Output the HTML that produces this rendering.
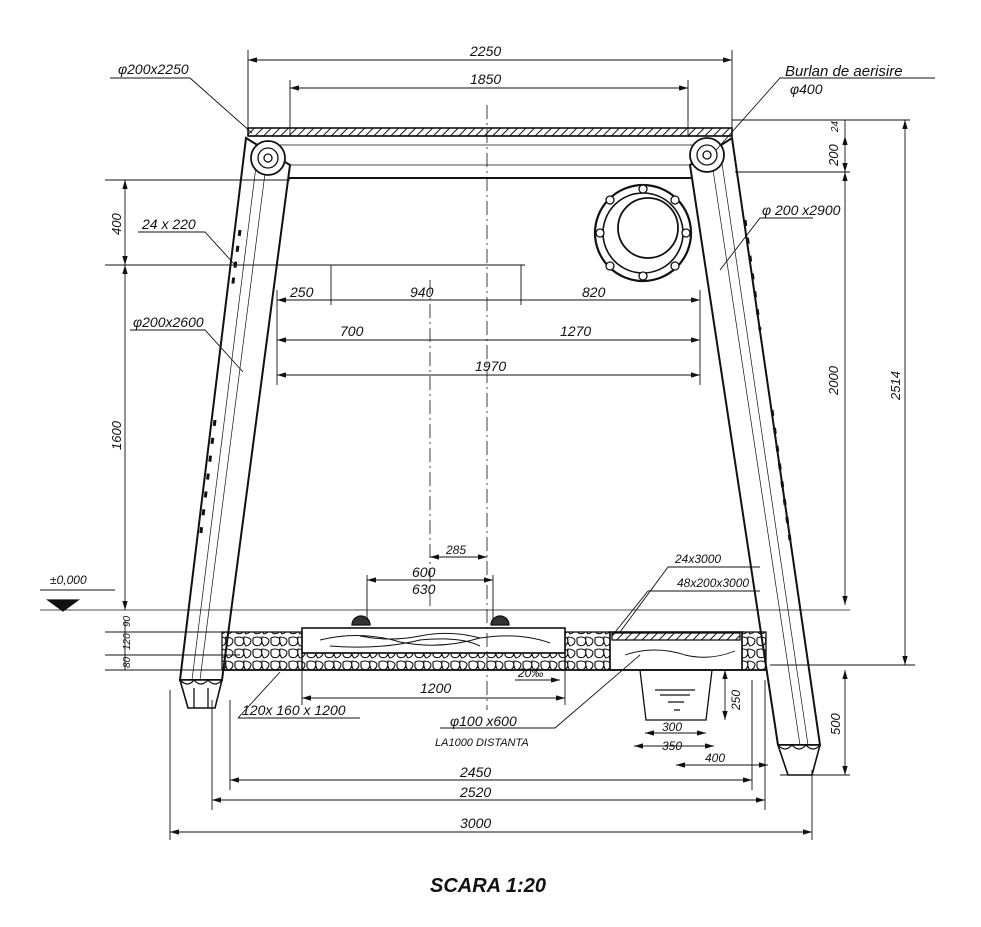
<!DOCTYPE html>
<html><head><meta charset="utf-8"><style>
html,body{margin:0;padding:0;background:#fff;}
svg{display:block;}
text{font-family:"Liberation Sans",sans-serif;font-style:italic;fill:#111;}
</style></head><body>
<svg width="981" height="927" viewBox="0 0 981 927" xmlns="http://www.w3.org/2000/svg">
<defs>
<marker id="a" markerWidth="10" markerHeight="6" refX="10" refY="3" orient="auto-start-reverse"><path d="M0,0 L10,3 L0,6 z" fill="#111"/></marker>
<pattern id="h" width="6" height="6" patternUnits="userSpaceOnUse" patternTransform="rotate(45)"><line x1="0" y1="0" x2="0" y2="6" stroke="#111" stroke-width="2"/></pattern>
<pattern id="st" width="18" height="12" patternUnits="userSpaceOnUse"><path d="M1,2 q4,-2 8,0 q2,4 -1,7 q-5,2 -7,-2z M10,1 q5,0 7,3 q0,5 -5,6 q-3,-3 -2,-9z" fill="none" stroke="#111" stroke-width="1.1"/></pattern>
</defs>
<g stroke="#111" fill="none" stroke-width="1.3">
<!-- top beam -->
<rect x="248" y="128" width="484" height="8" fill="url(#h)" stroke-width="1.6"/>
<line x1="248" y1="136" x2="732" y2="136"/>
<line x1="262" y1="145" x2="720" y2="145" stroke-width="0.8"/>
<line x1="270" y1="165" x2="700" y2="165" stroke-width="0.8"/>
<line x1="285" y1="178" x2="692" y2="178" stroke-width="2"/>
<!-- left post -->
<polygon points="246,138 290,165 222,680 180,680" fill="#fff" stroke-width="2"/>
<line x1="268" y1="150" x2="200" y2="680" stroke-width="0.7"/>
<line x1="258" y1="150" x2="192" y2="680" stroke-width="0.7"/>
<line x1="240" y1="230" x2="232" y2="290" stroke-width="3" stroke-dasharray="6,10"/>
<line x1="215" y1="420" x2="200" y2="540" stroke-width="3" stroke-dasharray="6,12"/>
<polygon points="180,680 222,680 215,708 188,708" fill="#fff" stroke-width="1.6"/>
<path d="M180,680 q8,8 14,0 q7,8 14,0 q7,8 14,0" />
<line x1="194" y1="688" x2="194" y2="708"/><line x1="208" y1="688" x2="208" y2="708"/>
<!-- right post -->
<polygon points="690,165 732,138 820,745 778,745" fill="#fff" stroke-width="2"/>
<line x1="710" y1="150" x2="800" y2="745" stroke-width="0.7"/>
<line x1="720" y1="150" x2="808" y2="745" stroke-width="0.7"/>
<line x1="745" y1="220" x2="760" y2="330" stroke-width="3" stroke-dasharray="6,12"/>
<line x1="772" y1="410" x2="790" y2="540" stroke-width="3" stroke-dasharray="6,12"/>
<polygon points="778,745 820,745 812,775 788,775" fill="#fff" stroke-width="1.6"/>
<path d="M778,745 q7,8 14,0 q7,8 14,0 q7,8 14,0"/>
<!-- circles -->
<circle cx="268" cy="158" r="17" fill="#fff" stroke-width="1.8"/><circle cx="268" cy="158" r="10"/><circle cx="268" cy="158" r="4"/>
<circle cx="707" cy="155" r="17" fill="#fff" stroke-width="1.8"/><circle cx="707" cy="155" r="10"/><circle cx="707" cy="155" r="4"/>
<circle cx="643" cy="233" r="48" stroke-width="2.2"/><circle cx="643" cy="233" r="40" stroke-width="1.6"/><circle cx="648" cy="228" r="30" stroke-width="1.8"/>
<g fill="#fff"><circle cx="643" cy="189" r="4"/><circle cx="675" cy="200" r="4"/><circle cx="686" cy="233" r="4"/><circle cx="675" cy="266" r="4"/><circle cx="643" cy="276" r="4"/><circle cx="610" cy="266" r="4"/><circle cx="600" cy="233" r="4"/><circle cx="610" cy="200" r="4"/></g>
<!-- ground -->
<rect x="222" y="632" width="80" height="38" fill="url(#st)"/>
<rect x="302" y="653" width="263" height="17" fill="url(#st)"/>
<rect x="565" y="632" width="45" height="38" fill="url(#st)"/>
<rect x="742" y="632" width="24" height="38" fill="url(#st)"/>
<rect x="302" y="628" width="263" height="25" stroke-width="1.6"/>
<path d="M320,640 q40,-10 80,2 q40,8 80,-4 q40,-6 70,5 M330,646 q50,4 90,-6 q40,-4 60,6 M360,636 q30,6 60,0 q30,-6 60,2" stroke-width="1"/>
<rect x="610" y="632" width="132" height="38" stroke-width="1.6"/>
<rect x="612" y="633" width="128" height="7" fill="url(#h)"/>
<path d="M625,655 q30,-10 60,0 q25,6 50,-4" stroke-width="0.9"/>
<line x1="222" y1="670" x2="766" y2="670" stroke-width="1.8"/>
<polygon points="640,670 712,670 706,720 646,720"/>
<path d="M655,690 h40 M660,695 h30 M668,702 h16 M674,710 h6"/>
<path d="M352,625 a9,9 0 0 1 18,0 z M491,625 a9,9 0 0 1 18,0 z" fill="#333"/>
<!-- center lines -->
<line x1="487" y1="105" x2="487" y2="710" stroke-dasharray="14,4,2,4" stroke-width="0.8"/>
<line x1="430" y1="280" x2="430" y2="610" stroke-dasharray="14,4,2,4" stroke-width="0.8"/>
<line x1="40" y1="610" x2="850" y2="610" stroke-width="0.8"/>
<!-- dimension lines -->
<g stroke-width="0.9">
<line x1="248" y1="60" x2="732" y2="60" marker-start="url(#a)" marker-end="url(#a)"/>
<line x1="248" y1="50" x2="248" y2="130"/><line x1="732" y1="50" x2="732" y2="130"/>
<line x1="290" y1="88" x2="688" y2="88" marker-start="url(#a)" marker-end="url(#a)"/>
<line x1="290" y1="80" x2="290" y2="135"/><line x1="688" y1="80" x2="688" y2="135"/>
<line x1="105" y1="180" x2="290" y2="180"/><line x1="105" y1="265" x2="525" y2="265"/>
<line x1="125" y1="180" x2="125" y2="265" marker-start="url(#a)" marker-end="url(#a)"/>
<line x1="125" y1="265" x2="125" y2="610" marker-start="url(#a)" marker-end="url(#a)"/>
<line x1="125" y1="620" x2="125" y2="670"/>
<line x1="105" y1="632" x2="300" y2="632"/><line x1="105" y1="655" x2="240" y2="655"/><line x1="105" y1="670" x2="222" y2="670"/>
<line x1="732" y1="120" x2="910" y2="120"/><line x1="735" y1="172" x2="850" y2="172"/>
<line x1="845" y1="120" x2="845" y2="136"/>
<line x1="845" y1="136" x2="845" y2="172" marker-start="url(#a)" marker-end="url(#a)"/>
<line x1="845" y1="172" x2="845" y2="605" marker-start="url(#a)" marker-end="url(#a)"/>
<line x1="905" y1="120" x2="905" y2="665" marker-start="url(#a)" marker-end="url(#a)"/>
<line x1="770" y1="665" x2="915" y2="665"/><line x1="780" y1="775" x2="850" y2="775"/>
<line x1="845" y1="670" x2="845" y2="775" marker-start="url(#a)" marker-end="url(#a)"/>
<line x1="277" y1="300" x2="700" y2="300" marker-start="url(#a)" marker-end="url(#a)"/>
<line x1="331" y1="265" x2="331" y2="305"/><line x1="521" y1="265" x2="521" y2="305"/>
<line x1="277" y1="340" x2="700" y2="340" marker-start="url(#a)" marker-end="url(#a)"/>
<line x1="277" y1="375" x2="700" y2="375" marker-start="url(#a)" marker-end="url(#a)"/>
<line x1="277" y1="290" x2="277" y2="385"/><line x1="700" y1="290" x2="700" y2="385"/>
<line x1="430" y1="557" x2="487" y2="557" marker-start="url(#a)" marker-end="url(#a)"/>
<line x1="367" y1="580" x2="493" y2="580" marker-start="url(#a)" marker-end="url(#a)"/>
<line x1="367" y1="575" x2="367" y2="620"/><line x1="493" y1="575" x2="493" y2="620"/>
<line x1="302" y1="698" x2="565" y2="698" marker-start="url(#a)" marker-end="url(#a)"/>
<line x1="302" y1="660" x2="302" y2="705"/><line x1="565" y1="660" x2="565" y2="705"/>
<line x1="645" y1="733" x2="706" y2="733" marker-start="url(#a)" marker-end="url(#a)"/>
<line x1="634" y1="746" x2="714" y2="746" marker-start="url(#a)" marker-end="url(#a)"/>
<line x1="725" y1="670" x2="725" y2="720" marker-start="url(#a)" marker-end="url(#a)"/>
<line x1="676" y1="765" x2="768" y2="765" marker-start="url(#a)" marker-end="url(#a)"/>
<line x1="230" y1="780" x2="752" y2="780" marker-start="url(#a)" marker-end="url(#a)"/>
<line x1="212" y1="800" x2="765" y2="800" marker-start="url(#a)" marker-end="url(#a)"/>
<line x1="170" y1="832" x2="812" y2="832" marker-start="url(#a)" marker-end="url(#a)"/>
<line x1="170" y1="690" x2="170" y2="840"/><line x1="812" y1="770" x2="812" y2="840"/>
<line x1="212" y1="700" x2="212" y2="810"/><line x1="230" y1="700" x2="230" y2="790"/>
<line x1="752" y1="680" x2="752" y2="790"/><line x1="765" y1="680" x2="765" y2="810"/>
<!-- leaders -->
<polyline points="110,78 190,78 252,133"/>
<polyline points="935,78 780,78 716,150"/>
<polyline points="138,232 205,232 235,265"/>
<polyline points="130,330 205,330 243,372"/>
<polyline points="813,218 760,218 720,270"/>
<polyline points="238,718 360,718"/><line x1="238" y1="718" x2="280" y2="672"/>
<polyline points="440,728 555,728 640,655"/>
<polyline points="648,591 760,591"/><line x1="648" y1="591" x2="612" y2="636"/>
<polyline points="668,567 760,567"/><line x1="668" y1="567" x2="620" y2="632"/>
<line x1="515" y1="680" x2="560" y2="680" marker-end="url(#a)"/>
<line x1="40" y1="590" x2="115" y2="590"/>
</g>
<polygon points="48,600 78,600 63,611" fill="#111"/>
</g>
<g font-size="14">
<text x="470" y="56">2250</text>
<text x="470" y="84">1850</text>
<text x="118" y="74">φ200x2250</text>
<text x="785" y="76" font-size="15">Burlan de aerisire</text>
<text x="790" y="94">φ400</text>
<text x="142" y="229">24 x 220</text>
<text x="133" y="327">φ200x2600</text>
<text x="762" y="215">φ 200 x2900</text>
<text x="290" y="297">250</text>
<text x="410" y="297">940</text>
<text x="582" y="297">820</text>
<text x="340" y="336">700</text>
<text x="560" y="336">1270</text>
<text x="475" y="371">1970</text>
<text x="446" y="554" font-size="12">285</text>
<text x="412" y="577">600</text>
<text x="412" y="594">630</text>
<text x="50" y="584" font-size="12">±0,000</text>
<text x="420" y="693">1200</text>
<text x="518" y="677" font-size="12">20‰</text>
<text x="242" y="715">120x 160 x 1200</text>
<text x="450" y="726">φ100 x600</text>
<text x="435" y="746" font-size="11">LA1000 DISTANTA</text>
<text x="675" y="563" font-size="12">24x3000</text>
<text x="677" y="587" font-size="12">48x200x3000</text>
<text x="662" y="731" font-size="12">300</text>
<text x="662" y="750" font-size="12">350</text>
<text x="705" y="762" font-size="12">400</text>
<text x="460" y="777">2450</text>
<text x="460" y="797">2520</text>
<text x="460" y="828">3000</text>
<text x="430" y="892" font-size="20" font-weight="bold">SCARA 1:20</text>
</g>
<g font-size="13">
<text transform="translate(121,235) rotate(-90)">400</text>
<text transform="translate(121,450) rotate(-90)">1600</text>
<text transform="translate(130,627) rotate(-90)" font-size="10">90</text>
<text transform="translate(130,650) rotate(-90)" font-size="10">120</text>
<text transform="translate(130,668) rotate(-90)" font-size="10">80</text>
<text transform="translate(838,132) rotate(-90)" font-size="10">24</text>
<text transform="translate(838,166) rotate(-90)">200</text>
<text transform="translate(838,395) rotate(-90)">2000</text>
<text transform="translate(900,400) rotate(-90)">2514</text>
<text transform="translate(740,710) rotate(-90)" font-size="12">250</text>
<text transform="translate(840,735) rotate(-90)">500</text>
</g>
</svg>
</body></html>
